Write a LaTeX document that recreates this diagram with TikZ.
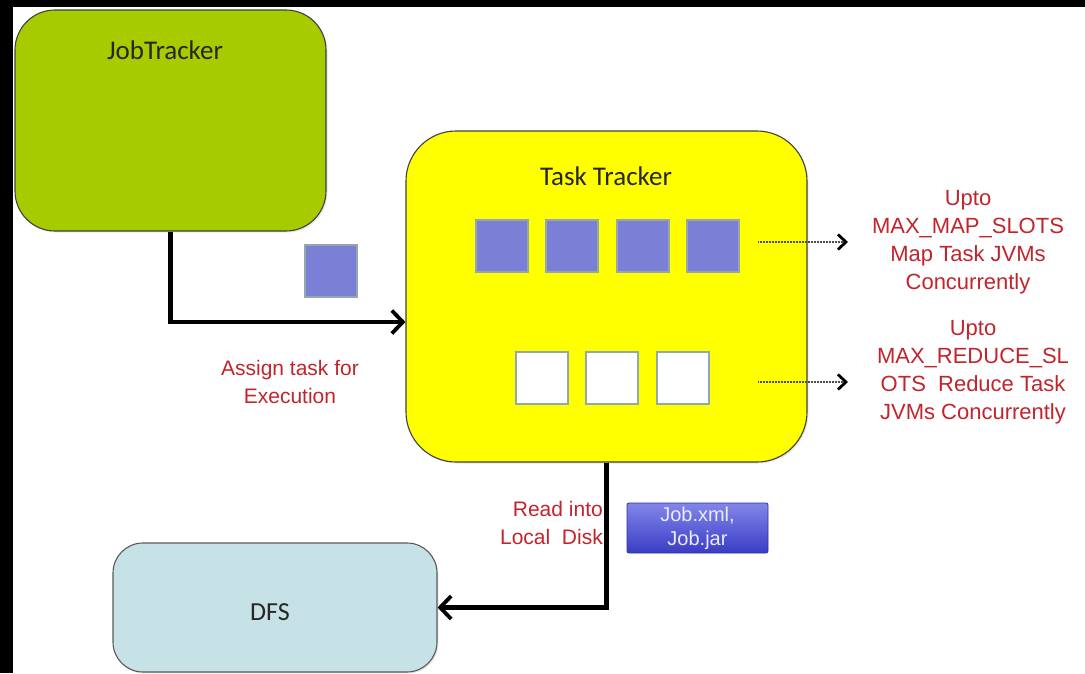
\documentclass[tikz,border=0pt]{standalone}
\usepackage{fontspec}
\setmainfont{Liberation Sans}
\newfontfamily\boxfont{Carlito}
\usetikzlibrary{arrows.meta,calc,shadows}

\definecolor{jtgreen}{HTML}{A6CC00}
\definecolor{ttyellow}{HTML}{FFFF00}
\definecolor{dfscyan}{HTML}{C6E2E6}
\definecolor{slotblue}{HTML}{7B7FD6}
\definecolor{slotedge}{HTML}{93A8AE}
\definecolor{notered}{HTML}{C3242C}
\definecolor{jobtop}{HTML}{8286EA}
\definecolor{jobbot}{HTML}{3A3DC4}

\tikzset{
  trackerbox/.style={draw=black!75, line width=1.1pt, rounded corners=#1, inner sep=0pt,
    drop shadow={shadow xshift=1.5pt, shadow yshift=-1.5pt, opacity=0.18}},
  titletext/.style={font=\boxfont\fontsize{27}{32}\selectfont, text=black!85, inner sep=0pt},
  slotbox/.style={draw=slotedge, line width=1.4pt, minimum width=52pt, minimum height=52pt, inner sep=0pt},
  mapslot/.style={slotbox, fill=slotblue},
  redslot/.style={slotbox, fill=white},
  note/.style={text=notered, align=center, inner sep=0pt, font=\fontsize{21}{28}\selectfont},
  flow/.style={line width=4.3pt, -{Straight Barb[length=11pt, width=23pt, line width=3.8pt]}},
  hint/.style={black!70, line width=2.4pt, dash pattern=on 0.8pt off 0.7pt,
    -{Straight Barb[length=8pt, width=15pt, line width=2.8pt, black]}},
}

\begin{document}
\begin{tikzpicture}[x=1pt, y=-1pt]
  % page ground with the dark frame on top and left
  \fill[black] (0,0) rectangle (1085,673);
  \fill[white] (13,7) rectangle (1085,673);
  \useasboundingbox (0,0) rectangle (1085,673);

  % trackers and file system
  \node[trackerbox=40pt, fill=jtgreen, minimum width=311pt, minimum height=221pt] (jt) at (170.5,120.5) {};
  \node[titletext] (jtname) at (165,50) {JobTracker};

  \node[trackerbox=50pt, fill=ttyellow, minimum width=401pt, minimum height=331pt] (tt) at (606.5,296.5) {};
  \node[titletext] (ttname) at (606,176) {Task Tracker};

  \node[trackerbox=30pt, draw=black!65, fill=dfscyan, minimum width=324pt, minimum height=129pt] (dfs) at (275,607.5) {};
  \node[titletext, font=\boxfont\fontsize{26}{30}\selectfont] (dfsname) at (270,612) {DFS};

  % map slots
  \node[mapslot] (m1) at (502,246) {};
  \node[mapslot] (m2) at (572,246) {};
  \node[mapslot] (m3) at (643,246) {};
  \node[mapslot] (m4) at (713,246) {};
  % reduce slots
  \node[redslot] (r1) at (542,378) {};
  \node[redslot] (r2) at (612,378) {};
  \node[redslot] (r3) at (683,378) {};

  % task handed over by the JobTracker
  \node[mapslot] (task) at (331,271) {};

  % job resources
  \node[draw=jobbot!80!black, line width=0.8pt, rounded corners=2pt,
        top color=jobtop, bottom color=jobbot, minimum width=141pt, minimum height=50pt,
        text=white!92!blue, align=center, inner sep=0pt,
        font=\fontsize{20}{24}\selectfont] (job) at (697.5,528) {Job.xml,\\Job.jar};

  % connectors
  \draw[flow] (jt.south) |- ([yshift=-25.5pt]tt.west);
  \draw[flow] (tt.south) |- (dfs.east);

  \coordinate (mapfrom) at (758,242);
  \coordinate (mapto) at (848,242);
  \coordinate (redfrom) at (758,382);
  \coordinate (redto) at (848,382);
  \draw[hint] (mapfrom) -- (mapto);
  \draw[hint] (redfrom) -- (redto);

  % notes
  \node[note] (assign) at (290,382) {Assign task for\\Execution};
  \node[note, align=right, anchor=east] (readinto) at (603,523) {Read into\\Local\ \ Disk};
  \node[note, font=\fontsize{22}{28}\selectfont] (mapnote) at (968,242) {Upto\\MAX\_MAP\_SLOTS\\Map Task JVMs\\Concurrently};
  \node[note, font=\fontsize{22}{28}\selectfont] (rednote) at (973,372) {Upto\\MAX\_REDUCE\_SL\\OTS\ \ Reduce Task\\JVMs Concurrently};
\end{tikzpicture}
\end{document}
